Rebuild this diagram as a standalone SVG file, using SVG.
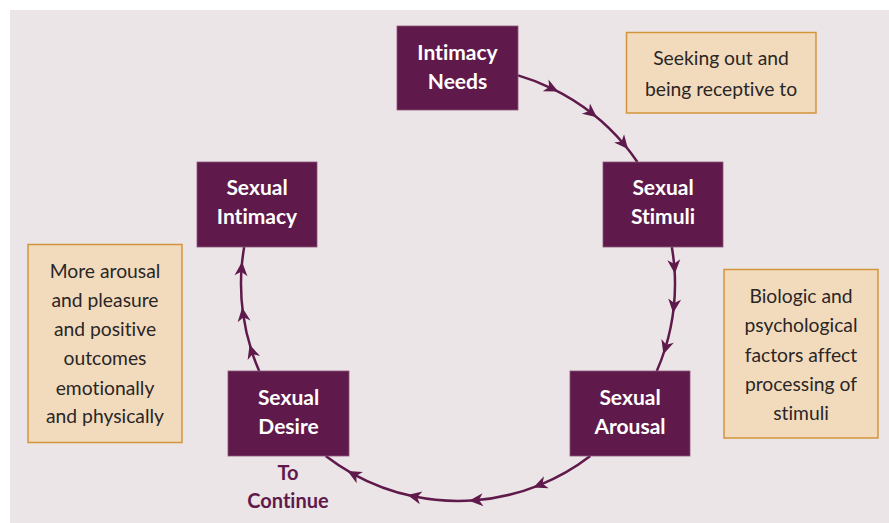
<svg xmlns="http://www.w3.org/2000/svg" width="889" height="523" viewBox="0 0 889 523">
<style>
text{font-variant-ligatures:none;font-feature-settings:"liga" 0,"clig" 0}
.node rect{fill:#5f1a4b;stroke:#8a5578;stroke-width:0.8}
.node text{fill:#ffffff;font-family:Lato,"Open Sans",sans-serif;font-weight:bold;font-size:21px;text-anchor:middle}
.note rect{fill:#f2dbbd;stroke:#d3953c;stroke-width:1.5}
.note text{fill:#2a2626;font-family:Lato,"Open Sans",sans-serif;font-size:19.3px;text-anchor:middle}
.conn{fill:none;stroke:#5f1a4b;stroke-width:2.5;marker-mid:url(#arr)}
.label{fill:#5f1a4b;font-family:Lato,"Open Sans",sans-serif;font-weight:bold;font-size:20px;text-anchor:middle}
</style>
<defs>
<marker id="arr" markerUnits="userSpaceOnUse" markerWidth="20" markerHeight="20" refX="0" refY="0" viewBox="-10 -10 20 20" orient="auto" overflow="visible">
<path d="M6,0 L-8,-6.5 L-4,0 L-8,6.5 Z" fill="#5f1a4b"/>
</marker>
</defs>
<rect x="0" y="0" width="889" height="523" fill="#ffffff"/>
<rect x="10" y="10" width="879" height="513" fill="#ebe5e7"/>
<g id="connectors">
<path class="conn" d="M518,75.4 A217,217 0 0 1 552.8,88.8 A217,217 0 0 1 592.2,113.5 A217,217 0 0 1 624.2,144.5 A217,217 0 0 1 637.4,162"/>
<path class="conn" d="M671.8,247 A217,217 0 0 1 674.4,267.7 A217,217 0 0 1 673.8,307.1 A217,217 0 0 1 665.2,348.5 A217,217 0 0 1 656.8,371"/>
<path class="conn" d="M590.3,456 A217,217 0 0 1 538.9,485.3 A217,217 0 0 1 475,500.3 A217,217 0 0 1 413.3,496.3 A217,217 0 0 1 352.8,473.8 A217,217 0 0 1 325.7,456"/>
<path class="conn" d="M259.2,371 A217,217 0 0 1 251.4,350.3 A217,217 0 0 1 243,313.4 A217,217 0 0 1 241.6,267.7 A217,217 0 0 1 244.2,247"/>
</g>
<g id="intimacy-needs" class="node">
<rect x="397" y="26" width="121" height="84"/>
<text x="457.5" y="60">Intimacy</text>
<text x="457.5" y="89">Needs</text>
</g>
<g id="sexual-stimuli" class="node">
<rect x="603" y="162" width="120" height="85"/>
<text x="663" y="195">Sexual</text>
<text x="663" y="224">Stimuli</text>
</g>
<g id="sexual-arousal" class="node">
<rect x="570" y="371" width="120" height="85"/>
<text x="630" y="405">Sexual</text>
<text x="630" y="434">Arousal</text>
</g>
<g id="sexual-desire" class="node">
<rect x="228" y="371" width="121" height="85"/>
<text x="288.5" y="405">Sexual</text>
<text x="288.5" y="434">Desire</text>
</g>
<g id="sexual-intimacy" class="node">
<rect x="197" y="162" width="120" height="85"/>
<text x="257" y="195">Sexual</text>
<text x="257" y="224">Intimacy</text>
</g>
<g id="note-seeking" class="note">
<rect x="626.5" y="32.5" width="189.5" height="80.5"/>
<text x="721" y="65">Seeking out and</text>
<text x="721" y="96">being receptive to</text>
</g>
<g id="note-biologic" class="note">
<rect x="724" y="269.5" width="154" height="168.5"/>
<text x="801" y="303">Biologic and</text>
<text x="801" y="332">psychological</text>
<text x="801" y="362">factors affect</text>
<text x="801" y="391">processing of</text>
<text x="801" y="420">stimuli</text>
</g>
<g id="note-more" class="note">
<rect x="28" y="244.5" width="154" height="198"/>
<text x="105" y="278">More arousal</text>
<text x="105" y="307">and pleasure</text>
<text x="105" y="336">and positive</text>
<text x="105" y="365">outcomes</text>
<text x="105" y="395">emotionally</text>
<text x="105" y="423">and physically</text>
</g>
<g id="to-continue">
<text class="label" x="288" y="480">To</text>
<text class="label" x="288" y="508">Continue</text>
</g>
</svg>
